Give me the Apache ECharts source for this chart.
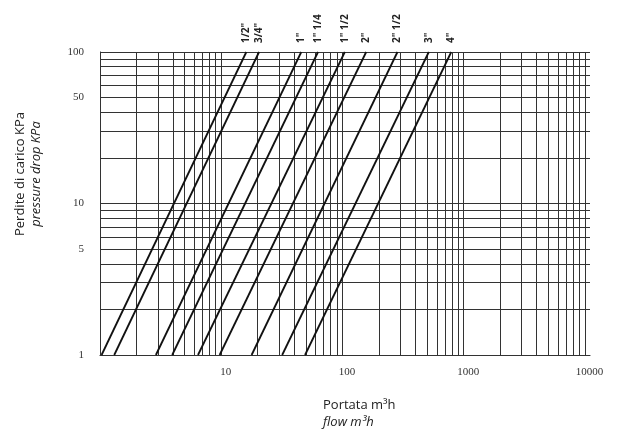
<!DOCTYPE html>
<html>
<head>
<meta charset="utf-8">
<script src="https://cdn.jsdelivr.net/npm/echarts@6/dist/echarts.min.js"></script>
<style>
html,body{margin:0;padding:0;background:#fff;}
#chart{width:622px;height:432px;}
</style>
</head>
<body>
<div id="chart"></div>
<script>
// Pipe sizes and their flow values (m3/h) at 1 kPa and 100 kPa pressure drop
const pipeSizes = ['1/2"', '3/4"', '1"', '1" 1/4', '1" 1/2', '2"', '2" 1/2', '3"', '4"'];
const flowAtDrop1 = [1.03, 1.31, 2.89, 3.94, 6.43, 9.70, 17.8, 31.8, 49.1];
const flowAtDrop100 = [16.1, 20.5, 45.7, 62.8, 104.5, 156.8, 284, 515, 789];
const dropRange = [1, 100];
const xTickLabels = [10, 100, 1000, 10000];
const yTickLabels = [1, 5, 10, 50, 100];
const xDecades = [1, 10, 100, 1000];
const yDecades = [1, 10];
const gridMultipliers = [1, 2, 3, 4, 5, 6, 7, 8, 9];

const xGridValues = [];
xDecades.forEach(d => gridMultipliers.forEach(m => xGridValues.push(d * m)));
xGridValues.push(10000);
const yGridValues = [];
yDecades.forEach(d => gridMultipliers.forEach(m => yGridValues.push(d * m)));
yGridValues.push(100);

const chart = echarts.init(document.getElementById('chart'), null, {renderer: 'canvas'});

const lineSeries = pipeSizes.map((name, i) => ({
  name: name,
  type: 'line',
  symbol: 'circle',
  symbolSize: 0,
  showSymbol: true,
  silent: true,
  clip: false,
  z: 5,
  labelLayout: {hideOverlap: false},
  lineStyle: {color: '#111', width: 1.8},
  itemStyle: {color: '#111'},
  data: [
    [flowAtDrop1[i], dropRange[0]],
    {
      value: [flowAtDrop100[i], dropRange[1]],
      label: {
        show: true,
        formatter: name,
        position: 'top',
        distance: 9,
        rotate: 90,
        offset: [0, 4],
        align: 'left',
        verticalAlign: 'middle',
        fontFamily: 'Open Sans',
        fontSize: 10,
        fontWeight: 'bold',
        color: '#222'
      }
    }
  ]
}));

const gridSeries = {
  name: 'grid',
  type: 'line',
  symbol: 'none',
  silent: true,
  clip: false,
  lineStyle: {opacity: 0},
  data: [[1, 1]],
  z: 2,
  markLine: {
    silent: true,
    symbol: 'none',
    label: {show: false},
    lineStyle: {color: '#333', width: 1, type: 'solid'},
    animation: false,
    data: [
      ...xGridValues.map(v => ({xAxis: v})),
      ...yGridValues.map(v => ({yAxis: v}))
    ]
  }
};

chart.setOption({
  animation: false,
  backgroundColor: '#fff',
  grid: {left: 100, right: 32, top: 52, bottom: 77},
  xAxis: {
    type: 'log',
    logBase: 10,
    min: 1,
    max: 11000,
    axisLine: {show: true, lineStyle: {color: '#222', width: 1}},
    axisTick: {show: false},
    splitLine: {show: false},
    axisLabel: {
      customValues: xTickLabels,
      formatter: v => String(Math.round(v)),
      margin: 12,
      padding: [0, 0, 0, 9],
      fontFamily: 'Liberation Serif',
      fontSize: 11,
      color: '#333'
    }
  },
  yAxis: {
    type: 'log',
    logBase: 10,
    min: 1,
    max: 100,
    axisLine: {show: true, lineStyle: {color: '#222', width: 1}},
    axisTick: {show: false},
    splitLine: {show: false},
    axisLabel: {
      customValues: yTickLabels,
      formatter: v => String(Math.round(v)),
      margin: 16,
      padding: [0, 0, 8, 0],
      fontFamily: 'Liberation Serif',
      fontSize: 11,
      color: '#333'
    }
  },
  graphic: [
    {
      type: 'text',
      x: 20, y: 174,
      rotation: Math.PI / 2,
      style: {
        text: 'Perdite di carico KPa',
        font: '13px "Open Sans"',
        fill: '#222',
        textAlign: 'center',
        textVerticalAlign: 'middle'
      }
    },
    {
      type: 'text',
      x: 36, y: 174,
      rotation: Math.PI / 2,
      style: {
        text: 'pressure drop KPa',
        font: 'italic 13px "Open Sans"',
        fill: '#222',
        textAlign: 'center',
        textVerticalAlign: 'middle'
      }
    },
    {
      type: 'text',
      x: 323, y: 405,
      style: {
        text: 'Portata m³h',
        font: '13px "Open Sans"',
        fill: '#222',
        textAlign: 'left',
        textVerticalAlign: 'middle'
      }
    },
    {
      type: 'text',
      x: 323, y: 422,
      style: {
        text: 'flow m³h',
        font: 'italic 13px "Open Sans"',
        fill: '#222',
        textAlign: 'left',
        textVerticalAlign: 'middle'
      }
    }
  ],
  series: [gridSeries, ...lineSeries]
});
</script>
</body>
</html>
